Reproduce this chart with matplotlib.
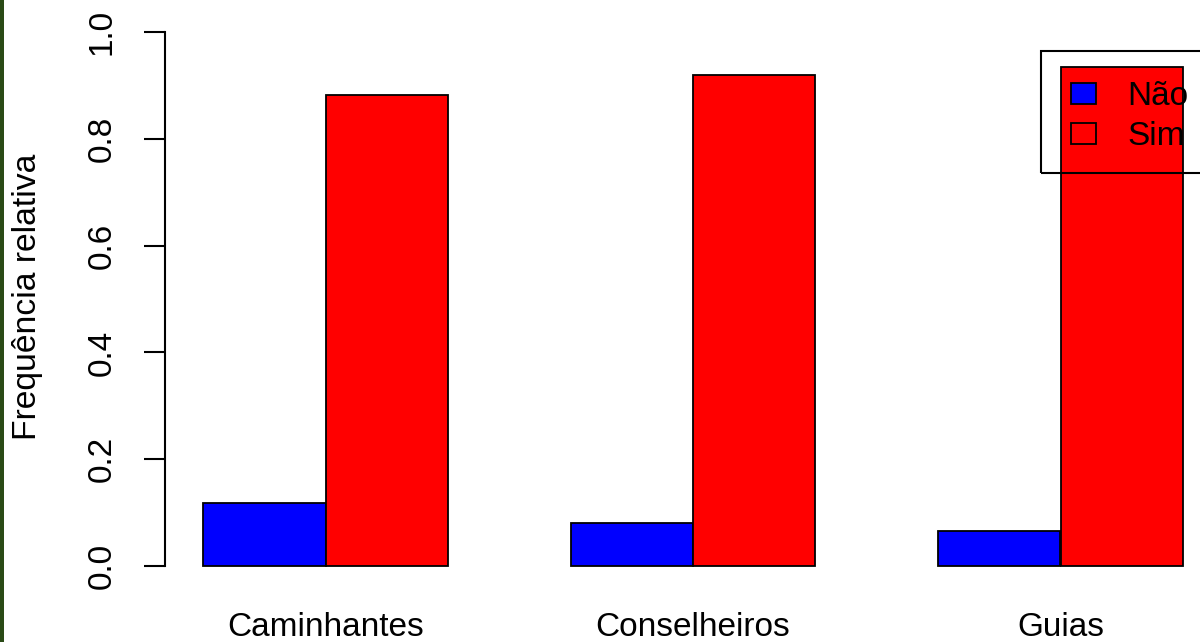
import matplotlib
matplotlib.use("Agg")
import matplotlib.pyplot as plt
from matplotlib.patches import Rectangle, Patch
import numpy as np

plt.rcParams['font.family'] = ['Liberation Sans', 'DejaVu Sans']

categories = ["Caminhantes", "Conselheiros", "Guias"]
nao = [0.118, 0.081, 0.066]
sim = [0.882, 0.919, 0.934]
legend_labels = ["Não", "Sim"]
yticks = [0.0, 0.2, 0.4, 0.6, 0.8, 1.0]
ytick_labels = ["0.0", "0.2", "0.4", "0.6", "0.8", "1.0"]
ylabel = "Frequência relativa"

W, H = 1200, 642
FS = 24
fig = plt.figure(figsize=(W / 100, H / 100), dpi=100)
fig.patch.set_facecolor("white")

# dark green strip on the left edge
fig.add_artist(Rectangle((0, 0), 4 / W, 1, transform=fig.transFigure,
                         facecolor="#2a4a16", edgecolor="none", zorder=10))

ax_left = 165
ax_bottom = 566
ax_top = 32
ax = fig.add_axes([ax_left / W, (H - ax_bottom) / H, 1 - ax_left / W,
                   (ax_bottom - ax_top) / H])

# R barplot layout: width 1, groups separated by space 1
n = len(categories)
left_nao = np.array([1 + 3 * i for i in range(n)], dtype=float)
left_sim = left_nao + 1

ax.bar(left_nao, nao, width=1, align="edge", color="#0000FF",
       edgecolor="black", linewidth=1.3, clip_on=False)
ax.bar(left_sim, sim, width=1, align="edge", color="#FF0000",
       edgecolor="black", linewidth=1.3, clip_on=False)

px_per_unit = 122.5
x0_px = 80.5
ax.set_xlim((ax_left - x0_px) / px_per_unit, (W - x0_px) / px_per_unit)
ax.set_ylim(0, 1)

for s in ["top", "right", "bottom"]:
    ax.spines[s].set_visible(False)
ax.spines["left"].set_bounds(0, 1)
ax.spines["left"].set_linewidth(1.5)

ax.set_yticks(yticks)
ax.set_yticklabels(ytick_labels, rotation=90, va="center", fontsize=FS)
ax.tick_params(axis="y", length=15, width=1.5, pad=19, colors="black")

ax.set_xticks(left_sim)
ax.set_xticklabels(categories, fontsize=FS)
ax.tick_params(axis="x", length=0, pad=33)

fig.text(28 / W, (H - 297) / H, ylabel, rotation=90, ha="center",
         va="center", fontsize=FS + 0.3)

# legend: keys + labels (no automatic frame), frame drawn separately
handles = [Patch(facecolor="#0000FF", edgecolor="black", linewidth=1.3),
           Patch(facecolor="#FF0000", edgecolor="black", linewidth=1.3)]
leg = ax.legend(handles, legend_labels, loc="upper left",
                bbox_to_anchor=(1071 / W, (H - 81) / H),
                bbox_transform=fig.transFigure, borderaxespad=0,
                fontsize=FS, frameon=False,
                handlelength=0.75, handleheight=0.6, handletextpad=0.95,
                labelspacing=0.27, borderpad=0)
leg.set_zorder(6)

fig.add_artist(Rectangle((1041 / W, (H - 173) / H), 200 / W, 122 / H,
                         transform=fig.transFigure, facecolor="none",
                         edgecolor="black", linewidth=1.5, zorder=7,
                         clip_on=False))

fig.savefig("out.png", dpi=100)
